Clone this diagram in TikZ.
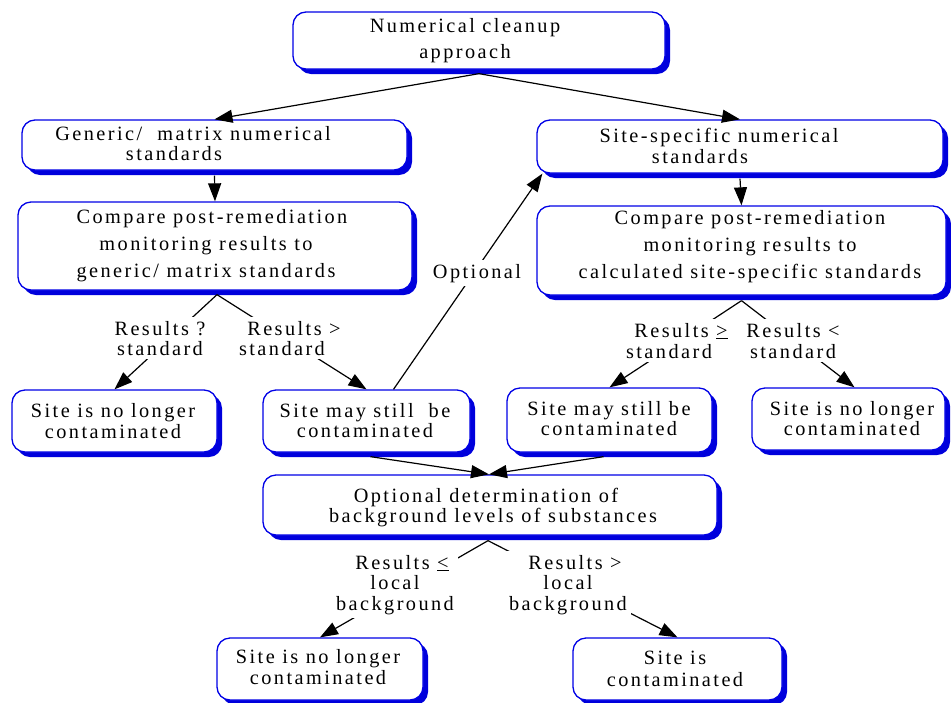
\documentclass[tikz,border=0pt]{standalone}
\usepackage{fontspec}
\setmainfont{Liberation Serif}[LetterSpace=12]
\usetikzlibrary{arrows.meta,shadows}
\definecolor{boxblue}{RGB}{0,0,230}
\definecolor{shblue}{RGB}{0,0,220}
\begin{document}
\begin{tikzpicture}[x=1pt,y=-1pt,
  box/.style={draw=boxblue, line width=1.3pt, fill=white, rounded corners=13pt,
    drop shadow={shadow xshift=5pt, shadow yshift=-5pt, fill=shblue, opacity=1},
    inner sep=0pt},
  txt/.style={align=center, anchor=base, inner sep=0pt, font=\fontsize{20.3}{#1}\selectfont},
  txt/.default=21,
  lbl/.style={align=center, anchor=base, fill=white, inner sep=4pt, font=\fontsize{20.3}{#1}\selectfont},
  lbl/.default=20,
  conn/.style={draw, line width=1.2pt, -{Triangle[length=18pt,width=13pt]}},
]
\useasboundingbox (0,0) rectangle (951,702);

% boxes
\node[box, minimum width=372pt, minimum height=57pt] (top)  at (479,40.5) {};
\node[box, minimum width=385pt, minimum height=50pt] (gen)  at (214.5,145) {};
\node[box, minimum width=394pt, minimum height=88pt] (cmpg) at (215,246) {};
\node[box, minimum width=406pt, minimum height=53pt] (site) at (740,146.5) {};
\node[box, minimum width=409pt, minimum height=89pt] (cmps) at (741.5,250.5) {};
\node[box, minimum width=205pt, minimum height=62pt] (okL)  at (114.5,421) {};
\node[box, minimum width=207pt, minimum height=62pt] (mayL) at (366.5,421) {};
\node[box, minimum width=205pt, minimum height=64pt] (mayR) at (609.5,420) {};
\node[box, minimum width=193pt, minimum height=62pt] (okR)  at (848.5,419) {};
\node[box, minimum width=454pt, minimum height=60pt] (bg)   at (490,505) {};
\node[box, minimum width=206pt, minimum height=62pt] (okB)  at (320,669) {};
\node[box, minimum width=209pt, minimum height=62pt] (cont) at (677.5,669) {};

% box texts (anchor = baseline of last line)
\node[txt=26] (tTop)  at (465,58) {Numerical cleanup\\approach};
\node[txt=20] (tGen)  at (183.5,160) {\hspace*{19pt}Generic/\ \ matrix numerical\\standards\hspace*{19pt}};
\node[txt=27] (tCmpg) at (206,277) {\hspace*{12pt}Compare post-remediation\\monitoring results to\hspace*{14pt}\\generic/ matrix standards};
\node[txt=21] (tSite) at (709.5,163) {\hspace*{19pt}Site-specific numerical\\standards\hspace*{19pt}};
\node[txt=27] (tCmps) at (750,278) {Compare post-remediation\\monitoring results to\\calculated site-specific standards};
\node[txt=21] (tOkL)  at (113,438) {Site is no longer\\contaminated};
\node[txt=20] (tMayL) at (365,437) {Site may still\ \ be\\contaminated};
\node[txt=20] (tMayR) at (609,435) {Site may still be\\contaminated};
\node[txt=20] (tOkR)  at (852,435) {Site is no longer\\contaminated};
\node[txt=20] (tBg)   at (489.5,522) {Optional determination of\hspace*{7pt}\\\hspace*{7pt}background levels of substances};
\node[txt=21] (tOkB)  at (318,684) {Site is no longer\\contaminated};
\node[txt=22] (tCont) at (675,686) {Site is\\contaminated};

% connectors
\draw[conn] ([yshift=-4pt]top.south) -- (gen.north);
\draw[conn] ([yshift=-4pt]top.south) -- (site.north);
\draw[conn] ([yshift=-5pt]gen.south) -- (cmpg.north);
\draw[conn] ([yshift=-5pt]site.south) -- (cmps.north);
\draw[conn] ([xshift=2pt,yshift=-4pt]cmpg.south) -- (okL.north);
\draw[conn] ([xshift=2pt,yshift=-4pt]cmpg.south) -- (mayL.north);
\draw[conn] ([yshift=-5pt]cmps.south) -- (mayR.north);
\draw[conn] ([yshift=-5pt]cmps.south) -- ([xshift=6pt]okR.north);
\draw[conn] ([xshift=27pt]mayL.north) -- ([xshift=6pt]site.south west);
\draw[conn] ([xshift=4pt,yshift=-4pt]mayL.south) -- ([xshift=-1pt]bg.north);
\draw[conn] ([xshift=-6pt,yshift=-4pt]mayR.south) -- ([xshift=-1pt]bg.north);
\draw[conn] ([xshift=-2pt,yshift=-5pt]bg.south) -- (okB.north);
\draw[conn] ([xshift=-2pt,yshift=-5pt]bg.south) -- (cont.north);

% connector labels (anchor = baseline of last line)
\node[lbl=20] (l1) at (160,355) {Results ?\\standard};
\node[lbl=20] (l2) at (288,355) {\hspace*{12pt}Results >\\standard\hspace*{12pt}};
\node[lbl=21] (l3) at (675,358) {\hspace*{12pt}Results \underline{>}\\standard\hspace*{12pt}};
\node[lbl=21] (l4) at (793,358) {Results <\\standard};
\node[lbl] (l5) at (477,278) {Optional};
\node[lbl=20.5] (l6) at (395,610) {\hspace*{14pt}Results \underline{<}\\local\hspace*{12pt}\\background};
\node[lbl=20.5] (l7) at (568,610) {\hspace*{14pt}Results >\\local\hspace*{12pt}\\background};
\end{tikzpicture}
\end{document}
